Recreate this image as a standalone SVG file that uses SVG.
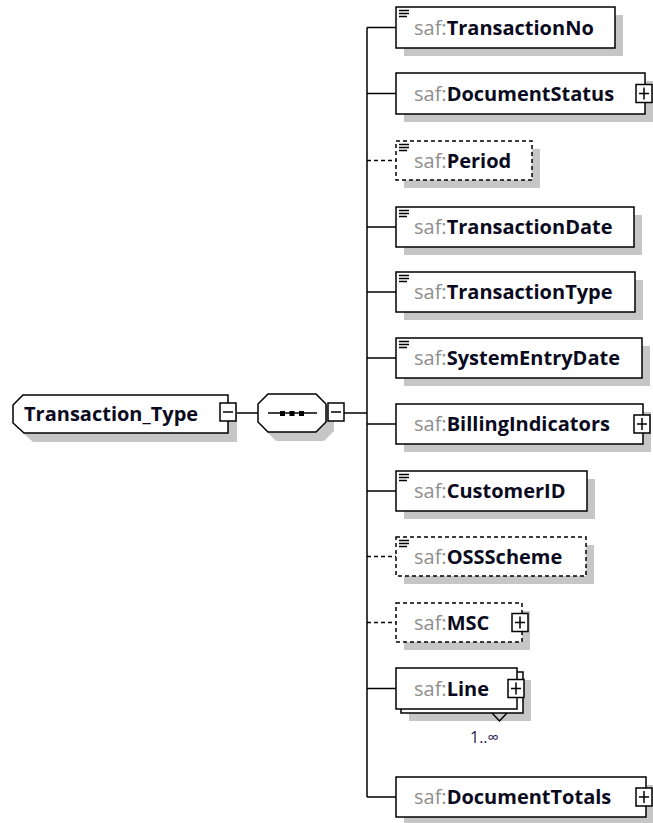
<svg xmlns="http://www.w3.org/2000/svg" width="653" height="823" viewBox="0 0 653 823">
<style>
  text { font-family: "Open Sans", "Noto Sans", "Liberation Sans", sans-serif; font-size: 20px; }
  .ns { fill: #8e8e8e; font-weight: normal; }
  .nm { fill: #0a0a20; font-weight: bold; }
  .box { fill: #fff; stroke: #000; stroke-width: 1.5; }
  .opt { stroke-dasharray: 4 3; }
  .shadow { fill: #c6c6c6; }
  .conn { fill: none; stroke: #000; stroke-width: 1.5; }
  .pm { fill: #fff; stroke: #000; stroke-width: 1.5; }
  .pmline { stroke: #000; stroke-width: 1.5; fill: none; }
  .ico { stroke: #000; stroke-width: 1.4; fill: none; }
  .occ { font-size: 16px; fill: #2a2050; }
</style>
<defs>
  <g id="plus">
    <rect class="pm" x="-8" y="-9" width="16" height="18"/>
    <path class="pmline" d="M-5,0 H5 M0,-6 V6"/>
  </g>
  <g id="minus">
    <rect class="pm" x="-8" y="-9" width="16" height="18"/>
    <path class="pmline" d="M-5,0 H5"/>
  </g>
  <g id="doc">
    <path class="ico" d="M0,0.5 H10 M0,3.5 H10 M0,6.5 H8"/>
  </g>
</defs>

<g id="connectors">
  <path class="conn" d="M236,413 H258"/>
  <path class="conn" d="M335,413 H367"/>
  <path class="conn" d="M367,27.5 V797"/>
  <path class="conn" d="M367,27.5 H396"/>
  <path class="conn" d="M367,93.5 H396"/>
  <path class="conn opt" d="M367,160.5 H396"/>
  <path class="conn" d="M367,227 H396"/>
  <path class="conn" d="M367,292 H396"/>
  <path class="conn" d="M367,358 H396"/>
  <path class="conn" d="M367,424 H396"/>
  <path class="conn" d="M367,491 H396"/>
  <path class="conn opt" d="M367,556.5 H396"/>
  <path class="conn opt" d="M367,622.5 H396"/>
  <path class="conn" d="M367,688.5 H396"/>
  <path class="conn" d="M367,797 H396"/>
</g>

<g id="Transaction_Type">
  <polygon class="shadow" points="32,404 237,404 237,442 33,442 22,432 22,414"/>
  <polygon class="box" points="23,395 228,395 228,433 24,433 13,423 13,405"/>
  <text x="24" y="421" class="nm">Transaction_Type</text>
  <use href="#minus" x="228" y="412"/>
</g>

<g id="sequence">
  <polygon class="shadow" points="276,403 324,403 334,413 334,431 324,441 276,441 266,431 266,413"/>
  <polygon class="box" points="268,394 316,394 326,404 326,422 316,432 268,432 258,422 258,404"/>
  <path class="conn" d="M268,413 H317"/>
  <rect x="280" y="411" width="5" height="5" fill="#000"/>
  <rect x="289.5" y="411" width="5" height="5" fill="#000"/>
  <rect x="299" y="411" width="5" height="5" fill="#000"/>
  <use href="#minus" x="336" y="412"/>
</g>

<g id="TransactionNo">
  <rect class="shadow" x="404" y="15" width="219" height="41"/>
  <rect class="box" x="396" y="7" width="219" height="41"/>
  <use href="#doc" x="399" y="10"/>
  <text x="414" y="35"><tspan class="ns">saf:</tspan><tspan class="nm">TransactionNo</tspan></text>
</g>

<g id="DocumentStatus">
  <rect class="shadow" x="404" y="81" width="249" height="41"/>
  <rect class="box" x="396" y="73" width="249" height="41"/>
  <text x="414" y="101"><tspan class="ns">saf:</tspan><tspan class="nm">DocumentStatus</tspan></text>
  <use href="#plus" x="644" y="93.5"/>
</g>

<g id="Period">
  <rect class="shadow" x="404" y="149" width="136" height="39"/>
  <rect class="box opt" x="396" y="141" width="136" height="39"/>
  <use href="#doc" x="399" y="144"/>
  <text x="414" y="168"><tspan class="ns">saf:</tspan><tspan class="nm">Period</tspan></text>
</g>

<g id="TransactionDate">
  <rect class="shadow" x="404" y="215" width="238" height="40"/>
  <rect class="box" x="396" y="207" width="238" height="40"/>
  <use href="#doc" x="399" y="210"/>
  <text x="414" y="234"><tspan class="ns">saf:</tspan><tspan class="nm">TransactionDate</tspan></text>
</g>

<g id="TransactionType">
  <rect class="shadow" x="404" y="280" width="239" height="40"/>
  <rect class="box" x="396" y="272" width="239" height="40"/>
  <use href="#doc" x="399" y="275"/>
  <text x="414" y="299"><tspan class="ns">saf:</tspan><tspan class="nm">TransactionType</tspan></text>
</g>

<g id="SystemEntryDate">
  <rect class="shadow" x="404" y="346" width="246" height="40"/>
  <rect class="box" x="396" y="338" width="246" height="40"/>
  <use href="#doc" x="399" y="341"/>
  <text x="414" y="365"><tspan class="ns">saf:</tspan><tspan class="nm">SystemEntryDate</tspan></text>
</g>

<g id="BillingIndicators">
  <rect class="shadow" x="404" y="412" width="247" height="40"/>
  <rect class="box" x="396" y="404" width="247" height="40"/>
  <text x="414" y="431"><tspan class="ns">saf:</tspan><tspan class="nm">BillingIndicators</tspan></text>
  <use href="#plus" x="642" y="424"/>
</g>

<g id="CustomerID">
  <rect class="shadow" x="404" y="479" width="191" height="40"/>
  <rect class="box" x="396" y="471" width="191" height="40"/>
  <use href="#doc" x="399" y="474"/>
  <text x="414" y="498"><tspan class="ns">saf:</tspan><tspan class="nm">CustomerID</tspan></text>
</g>

<g id="OSSScheme">
  <rect class="shadow" x="404" y="545" width="190" height="39"/>
  <rect class="box opt" x="396" y="537" width="190" height="39"/>
  <use href="#doc" x="399" y="540"/>
  <text x="414" y="564"><tspan class="ns">saf:</tspan><tspan class="nm">OSSScheme</tspan></text>
</g>

<g id="MSC">
  <rect class="shadow" x="404" y="611" width="126" height="39"/>
  <rect class="box opt" x="396" y="603" width="126" height="39"/>
  <text x="414" y="630"><tspan class="ns">saf:</tspan><tspan class="nm">MSC</tspan></text>
  <use href="#plus" x="520" y="622.5"/>
</g>

<g id="Line">
  <rect class="shadow" x="409" y="680" width="122" height="41"/>
  <rect class="box" x="401" y="672" width="122" height="41"/>
  <rect class="box" x="396" y="668" width="121" height="41"/>
  <path class="conn" d="M492,713 L499.5,721 L507,713" stroke-width="1.2"/>
  <text x="470" y="743" class="occ">1..∞</text>
  <text x="414" y="696"><tspan class="ns">saf:</tspan><tspan class="nm">Line</tspan></text>
  <use href="#plus" x="516" y="688.5"/>
</g>

<g id="DocumentTotals">
  <rect class="shadow" x="404" y="785" width="250" height="40"/>
  <rect class="box" x="396" y="777" width="250" height="40"/>
  <text x="414" y="804"><tspan class="ns">saf:</tspan><tspan class="nm">DocumentTotals</tspan></text>
  <use href="#plus" x="644" y="797"/>
</g>
</svg>
